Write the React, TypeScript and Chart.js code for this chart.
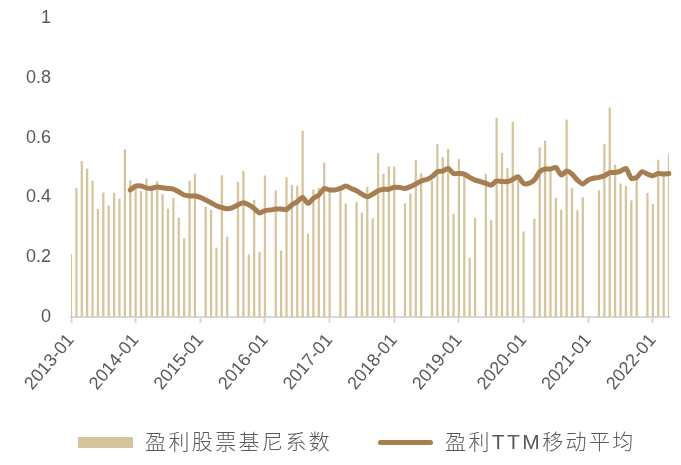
import React, { useEffect, useRef } from 'react';
import { Chart, registerables } from 'chart.js';

Chart.register(...registerables);

// ---- categories: monthly, 2013-01 .. 2022-04 ----
const START_YEAR = 2013;
const MONTH_COUNT = 112;
const CATEGORIES: string[] = [];
for (let i = 0; i < MONTH_COUNT; i++) {
  const y = START_YEAR + Math.floor(i / 12);
  const m = (i % 12) + 1;
  CATEGORIES.push(`${y}-${String(m).padStart(2, '0')}`);
}

const SERIES_BAR = '盈利股票基尼系数';
const SERIES_LINE = '盈利TTM移动平均';

// 盈利股票基尼系数 (monthly)
const GINI: (number | null)[] = [
  // 2013
  0.21, 0.43, 0.52, 0.495, 0.455, 0.36, 0.415, 0.372, 0.414, 0.395, 0.56, 0.456,
  // 2014
  0.44, 0.42, 0.462, 0.44, 0.453, 0.41, 0.361, 0.396, 0.331, 0.262, 0.455, 0.478,
  // 2015
  null, 0.368, 0.358, 0.231, 0.473, 0.268, null, 0.451, 0.487, 0.208, 0.391, 0.217,
  // 2016
  0.472, null, 0.422, 0.221, 0.466, 0.44, 0.438, 0.622, 0.278, 0.425, 0.43, 0.515,
  // 2017
  0.42, null, 0.42, 0.378, null, 0.384, 0.348, 0.434, 0.329, 0.547, 0.478, 0.502,
  // 2018
  0.502, null, 0.379, 0.412, 0.525, 0.48, null, 0.456, 0.577, 0.534, 0.561, 0.344,
  // 2019
  0.527, 0.47, 0.197, 0.331, null, 0.477, 0.324, 0.665, 0.548, 0.497, 0.652, 0.46,
  // 2020
  0.285, null, 0.328, 0.567, 0.589, 0.5, 0.398, 0.358, 0.659, 0.431, 0.356, 0.399,
  // 2021
  null, null, 0.422, 0.577, 0.699, 0.508, 0.445, 0.438, 0.389, 0.465, null, 0.414,
  // 2022
  0.377, 0.525, 0.48, 0.545,
];

// 盈利TTM移动平均 (starts 2013-12)
const TTM: (number | null)[] = [
  // 2013
  null, null, null, null, null, null, null, null, null, null, null, 0.425,
  // 2014
  0.438, 0.438, 0.432, 0.43, 0.435, 0.432, 0.43, 0.428, 0.419, 0.408, 0.405, 0.405,
  // 2015
  0.4, 0.391, 0.382, 0.372, 0.366, 0.362, 0.366, 0.375, 0.382, 0.375, 0.363, 0.348,
  // 2016
  0.356, 0.358, 0.361, 0.361, 0.36, 0.375, 0.386, 0.4, 0.38, 0.397, 0.408, 0.43,
  // 2017
  0.425, 0.425, 0.43, 0.438, 0.43, 0.422, 0.411, 0.402, 0.411, 0.422, 0.427, 0.427,
  // 2018
  0.434, 0.433, 0.43, 0.436, 0.445, 0.455, 0.46, 0.469, 0.486, 0.488, 0.497, 0.48,
  // 2019
  0.48, 0.478, 0.467, 0.458, 0.453, 0.447, 0.441, 0.455, 0.453, 0.453, 0.46, 0.469,
  // 2020
  0.447, 0.447, 0.458, 0.486, 0.495, 0.495, 0.5, 0.475, 0.488, 0.478, 0.458, 0.445,
  // 2021
  0.458, 0.464, 0.467, 0.472, 0.483, 0.483, 0.488, 0.497, 0.464, 0.467, 0.486, 0.478,
  // 2022
  0.472, 0.48, 0.478, 0.48,
];

const Y_MIN = 0;
const Y_MAX = 1;
const Y_STEP = 0.2;

const BAR_COLOR = '#D6C59C';
const LINE_COLOR = '#A77D52';
const TEXT_COLOR = '#595959';
const AXIS_COLOR = '#D9D9D9';
const FONT = '"Liberation Sans", Arial, "Noto Sans CJK SC", sans-serif';

export default function App() {
  const canvasRef = useRef<HTMLCanvasElement | null>(null);

  useEffect(() => {
    document.body.style.margin = '0';
    const canvas = canvasRef.current;
    if (!canvas) return;
    Chart.defaults.font.family = FONT;
    const chart = new Chart(canvas, {
      data: {
        labels: CATEGORIES,
        datasets: [
          {
            type: 'line',
            label: SERIES_LINE,
            data: TTM,
            borderColor: LINE_COLOR,
            backgroundColor: LINE_COLOR,
            borderWidth: 5,
            pointRadius: 0,
            tension: 0.25,
            borderCapStyle: 'round',
            borderJoinStyle: 'round',
            order: 0,
          } as any,
          {
            type: 'bar',
            label: SERIES_BAR,
            data: GINI,
            backgroundColor: BAR_COLOR,
            barThickness: 1.6,
            order: 1,
          } as any,
        ],
      },
      options: {
        animation: false,
        responsive: false,
        maintainAspectRatio: false,
        layout: { padding: { top: 18, right: 12, bottom: 0, left: 0 } },
        plugins: {
          legend: { display: false },
          tooltip: { enabled: false },
        },
        scales: {
          x: {
            type: 'category',
            offset: false,
            grid: {
              display: true,
              offset: false,
              drawOnChartArea: false,
              drawTicks: true,
              tickLength: 6,
              tickWidth: 2,
              tickColor: (c: any) => (c.index % 12 === 0 ? AXIS_COLOR : 'rgba(0,0,0,0)'),
            },
            border: { display: true, color: AXIS_COLOR, width: 2 },
            ticks: {
              autoSkip: false,
              minRotation: 50,
              maxRotation: 50,
              padding: 7,
              color: TEXT_COLOR,
              font: { size: 18 },
              callback: (_v: any, i: number) => (i % 12 === 0 ? CATEGORIES[i] : ''),
            },
            afterFit: (s: any) => {
              s.height = 465 - 317;
              s.paddingLeft = 0;
              s.paddingRight = 0;
            },
          },
          y: {
            min: Y_MIN,
            max: Y_MAX,
            ticks: {
              stepSize: Y_STEP,
              padding: 20,
              color: TEXT_COLOR,
              font: { size: 18 },
              callback: (v: any) => String(Math.round(Number(v) * 10) / 10),
            },
            grid: { display: false, drawTicks: false },
            border: { display: false },
            afterFit: (s: any) => {
              s.width = 71;
              s.paddingTop = 0;
              s.paddingBottom = 0;
            },
          },
        },
      } as any,
    });
    return () => chart.destroy();
  }, []);

  const legendText: React.CSSProperties = {
    position: 'absolute',
    top: 429,
    height: 26,
    lineHeight: '26px',
    fontSize: 21,
    fontWeight: 300,
    letterSpacing: '2.4px',
    color: TEXT_COLOR,
    fontFamily: FONT,
    whiteSpace: 'nowrap',
  };

  return (
    <div style={{ position: 'relative', width: 681, height: 465, background: '#fff' }}>
      <canvas ref={canvasRef} width={681} height={465} style={{ display: 'block', width: 681, height: 465 }} />
      <div style={{ position: 'absolute', left: 78, top: 437, width: 55, height: 11, background: BAR_COLOR }} />
      <div style={{ ...legendText, left: 145 }}>{SERIES_BAR}</div>
      <div style={{ position: 'absolute', left: 378, top: 440, width: 55, height: 5, borderRadius: 3, background: LINE_COLOR }} />
      <div style={{ ...legendText, left: 445 }}>{SERIES_LINE}</div>
    </div>
  );
}
